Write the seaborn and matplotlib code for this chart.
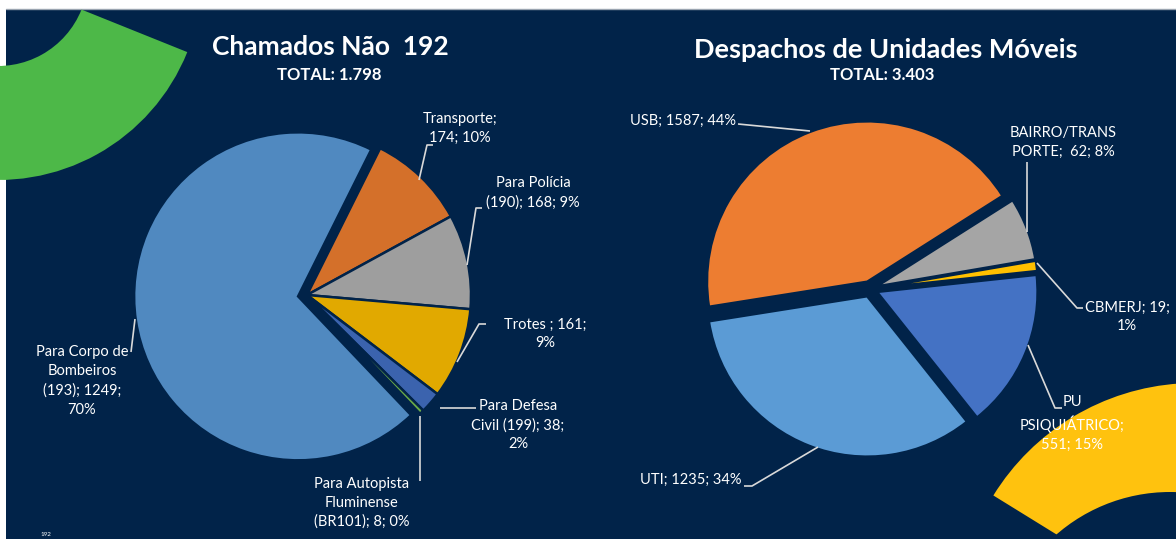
import matplotlib
matplotlib.use("Agg")
import matplotlib.pyplot as plt
from matplotlib.patches import Rectangle, Wedge, Circle
import seaborn as sns

# ---------------- data ----------------
left_title = "Chamados Não  192"
left_total = "TOTAL: 1.798"
left_values = [174, 168, 161, 38, 8, 1249]
left_pct = [10, 9, 9, 2, 0, 70]
left_label_tpl = [
    "Transporte;\n{v}; {p}%",
    "Para Polícia\n({c}); {v}; {p}%",
    "Trotes ; {v};\n{p}%",
    "Para Defesa\nCivil ({c}); {v};\n{p}%",
    "Para Autopista\nFluminense\n({c}); {v}; {p}%",
    "Para Corpo de\nBombeiros\n({c}); {v};\n{p}%",
]
left_codes = ["", "190", "", "199", "BR101", "193"]

right_title = "Despachos de Unidades Móveis"
right_total = "TOTAL: 3.403"
right_values = [1587, 62, 19, 551, 1235]
right_pct = [44, 8, 1, 15, 34]
right_share = [43.5, 6.3, 1.0, 16.0, 33.2]   # slice sizes as drawn in the picture
right_label_tpl = [
    "USB; {v}; {p}%",
    "BAIRRO/TRANS\nPORTE;  {v}; {p}%",
    "CBMERJ; {v};\n{p}%",
    "PU\nPSIQUIÁTRICO;\n{v}; {p}%",
    "UTI; {v}; {p}%",
]

# ---------------- style ----------------
sns.set_theme(style="white")
plt.rcParams["font.family"] = ["Lato", "DejaVu Sans"]

NAVY = "#012349"
left_colors = sns.color_palette(["#D4702A", "#9E9E9E", "#E1A900", "#3B63AE", "#6BAA48", "#5089C0"])
right_colors = sns.color_palette(["#ED7D31", "#A5A5A5", "#FFC000", "#4472C4", "#5B9BD5"])

W, H = 1176, 539
fig = plt.figure(figsize=(W / 100, H / 100), dpi=100)
fig.patch.set_facecolor("white")
ax = fig.add_axes([0, 0, 1, 1])


def Y(y):
    return H - y


# background panel
bg = Rectangle((6, 0), W - 6, H - 9, facecolor=NAVY, edgecolor="none", zorder=0)
ax.add_patch(bg)
ax.plot([6, W], [Y(8.5), Y(8.5)], color="#9aa4b0", lw=1, zorder=0.5)

# decorative arcs
g = Wedge((-2, Y(-24)), 204, -100, -21.9, width=114, facecolor="#4DB848", edgecolor="none", zorder=1)
g.set_clip_path(bg)
ax.add_patch(g)
yl = Wedge((1195, Y(620)), 237, -70, 148.3, facecolor="#FFC20E", edgecolor="none", zorder=1)
yl.set_clip_path(bg)
ax.add_patch(yl)
hole = Circle((1170, Y(665)), 173, facecolor=NAVY, edgecolor="none", zorder=1.2)
hole.set_clip_path(bg)
ax.add_patch(hole)

# ---------------- pies ----------------
ax.pie(left_values, colors=left_colors, startangle=63.5, counterclock=False,
       center=(307, Y(295)), radius=164,
       explode=[0, 0, 0, 0, 0, 9],
       wedgeprops=dict(edgecolor=NAVY, linewidth=1.8, zorder=2), frame=True)

ax.pie(right_share, colors=right_colors, startangle=189, counterclock=False,
       center=(870, Y(289)), radius=160,
       explode=[8] * 5,
       wedgeprops=dict(edgecolor=NAVY, linewidth=1.5, zorder=2), frame=True)

ax.set_xlim(0, W)
ax.set_ylim(0, H)
ax.axis("off")

# ---------------- titles ----------------
tkw = dict(color="white", ha="center", va="center", fontweight="bold", zorder=5)
ax.text(330, Y(47), left_title, fontsize=19, **tkw)
ax.text(329, Y(75), left_total, fontsize=12, **tkw)
ax.text(886, Y(50), right_title, fontsize=19.5, **tkw)
ax.text(882, Y(75), right_total, fontsize=12, **tkw)
ax.text(46, Y(535), "192", fontsize=4.5, color="white", ha="center", va="center", zorder=5)

# ---------------- labels ----------------
lkw = dict(color="white", fontsize=10.5, linespacing=1.45, zorder=5, multialignment="center")

left_pos = [(460, 128), (533, 193), (545, 334), (518, 425), (362, 503), (82, 381)]
for tpl, v, p, c, (x, y) in zip(left_label_tpl, left_values, left_pct, left_codes, left_pos):
    ax.text(x, Y(y), tpl.format(v=v, p=p, c=c), ha="center", va="center", **lkw)

right_pos = [(683, 121), (1010, 142), (1127, 317), (1072, 423), (691, 480)]
right_ha = ["center", "left", "center", "center", "center"]
for tpl, v, p, ha, (x, y) in zip(right_label_tpl, right_values, right_pct, right_ha, right_pos):
    ax.text(x, Y(y), tpl.format(v=v, p=p), ha=ha, va="center", **lkw)

# leader lines
leaders = [
    [(433, 145), (427, 145), (419, 180)],
    [(482, 208), (476, 208), (467, 265)],
    [(486, 324), (479, 324), (457, 362)],
    [(476, 408), (440, 408)],
    [(420, 481), (420, 416)],
    [(131, 352), (135, 319)],
    [(738, 124), (810, 131)],
    [(1027, 162), (1027, 232)],
    [(1083, 308), (1077, 308), (1037, 263)],
    [(1062, 408), (1055, 408), (1028, 345)],
    [(744, 486), (752, 486), (818, 447)],
]
for pts in leaders:
    xs = [p[0] for p in pts]
    ys = [Y(p[1]) for p in pts]
    ax.plot(xs, ys, color="#d9d9d9", lw=1.2, zorder=4, solid_capstyle="butt")

fig.savefig("out.png", dpi=100, facecolor=fig.get_facecolor())
